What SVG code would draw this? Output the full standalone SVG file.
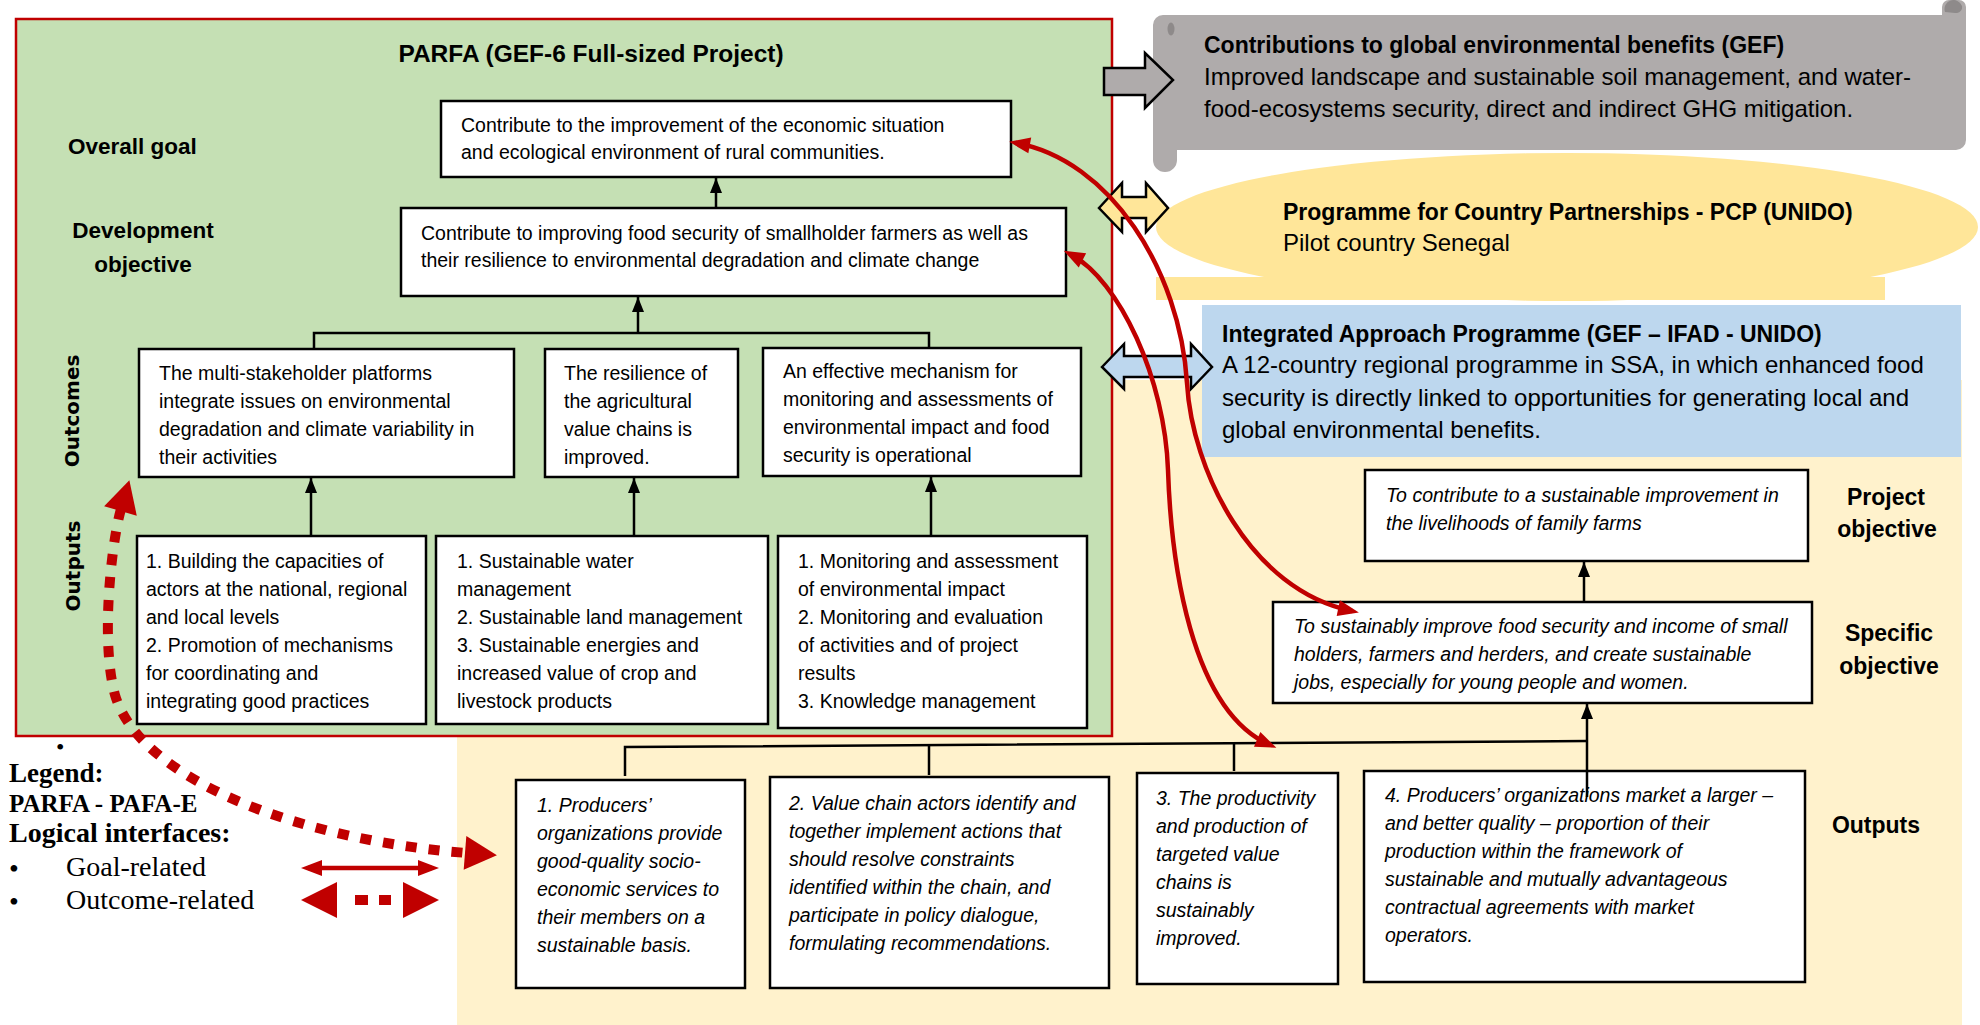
<svg xmlns="http://www.w3.org/2000/svg" width="1980" height="1025" viewBox="0 0 1980 1025">
<style>
.box{fill:#fff;stroke:#000;stroke-width:2.5}
.t{font-family:"Liberation Sans",Arial,sans-serif;font-size:19.5px;fill:#000}
.i{font-style:italic}
.b{font-weight:bold}
.lbl{font-family:"Liberation Sans",Arial,sans-serif;font-size:23px;font-weight:bold;fill:#000}
.big{font-family:"Liberation Sans",Arial,sans-serif;font-size:24px;fill:#000}
.vl{font-family:"DejaVu Sans",sans-serif;font-size:20px;font-weight:bold;fill:#000}
.ser{font-family:"Liberation Serif","Times New Roman",serif;fill:#000}
.conn{stroke:#000;stroke-width:2.5;fill:none}
.red{stroke:#C00000;stroke-width:4.5;fill:none}
.blk{stroke:#000;stroke-width:2.5;stroke-linejoin:miter}
</style>
<defs>
<marker id="ah" markerUnits="userSpaceOnUse" markerWidth="16" markerHeight="12" refX="15" refY="6" orient="auto" overflow="visible">
<path d="M0,0 L15,6 L0,12 z" fill="#000"/>
</marker>
<marker id="rh" markerUnits="userSpaceOnUse" markerWidth="22" markerHeight="18" refX="14" refY="8" orient="auto-start-reverse" overflow="visible">
<path d="M0,0 L21,8 L0,16 z" fill="#C00000"/>
</marker>
<marker id="rbig" markerUnits="userSpaceOnUse" markerWidth="34" markerHeight="36" refX="2" refY="17" orient="auto-start-reverse" overflow="visible">
<path d="M0,0 L32,17 L0,34 z" fill="#C00000"/>
</marker>
</defs>

<rect width="1980" height="1025" fill="#fff"/>

<g id="bg-cream">
<path d="M457,736 H1112 V380 H1962 V1025 H457 Z" fill="#FFF2CC"/>
</g>

<g id="gef">
<path d="M1163,15 H1942 V7 A7 7 0 0 1 1949 0 H1959 A7 7 0 0 1 1966 7 V140 A10 10 0 0 1 1956 150 H1177 V160 A12 12 0 0 1 1153 160 V25 A10 10 0 0 1 1163 15 Z" fill="#AFABAB"/>
<ellipse cx="1171" cy="29" rx="3.5" ry="6.5" fill="#8E8A8A"/>
<path d="M1945,12 A9 9 0 0 1 1962,6 A6 6 0 0 1 1955,13 Z" fill="#8E8A8A"/>
<text class="lbl" x="1204" y="53">Contributions to global environmental benefits (GEF)</text>
<text class="big" x="1204" y="85">Improved landscape and sustainable soil management, and water-</text>
<text class="big" x="1204" y="117">food-ecosystems security, direct and indirect GHG mitigation.</text>
</g>

<g id="pcp">
<ellipse cx="1567" cy="227" rx="411" ry="74" fill="#FFE699"/>
<rect x="1156" y="277" width="729" height="23" fill="#FFE699"/>
<text class="lbl" x="1283" y="220">Programme for Country Partnerships - PCP (UNIDO)</text>
<text class="big" x="1283" y="251">Pilot country Senegal</text>
</g>

<g id="iap">
<rect x="1202" y="305" width="759" height="152" fill="#BDD7EE"/>
<text class="lbl" x="1222" y="342">Integrated Approach Programme (GEF – IFAD - UNIDO)</text>
<text class="big" x="1222" y="373">A 12-country regional programme in SSA, in which enhanced food</text>
<text class="big" x="1222" y="406">security is directly linked to opportunities for generating local and</text>
<text class="big" x="1222" y="438">global environmental benefits.</text>
</g>

<g id="parfa">
<rect x="16" y="19" width="1096" height="717" fill="#C5E0B4" stroke="#C00000" stroke-width="2.5"/>
<text class="t b" x="591" y="62" text-anchor="middle" style="font-size:24.5px">PARFA (GEF-6 Full-sized Project)</text>
<text class="t b" x="68" y="154" style="font-size:22.5px">Overall goal</text>
<text class="t b" x="143" y="238" text-anchor="middle" style="font-size:22.5px">Development</text>
<text class="t b" x="143" y="272" text-anchor="middle" style="font-size:22.5px">objective</text>
<text class="vl" transform="translate(79,411) rotate(-90)" text-anchor="middle">Outcomes</text>
<text class="vl" transform="translate(80,566) rotate(-90)" text-anchor="middle">Outputs</text>
</g>

<g id="goal">
<rect class="box" x="441" y="101" width="570" height="76"/>
<text class="t" x="461" y="132">Contribute to the improvement of the economic situation</text>
<text class="t" x="461" y="159">and ecological environment of rural communities.</text>
</g>

<g id="devobj">
<rect class="box" x="401" y="208" width="665" height="88"/>
<text class="t" x="421" y="240">Contribute to improving food security of smallholder farmers as well as</text>
<text class="t" x="421" y="267">their resilience to environmental degradation and climate change</text>
</g>

<g id="outcome1">
<rect class="box" x="139" y="349" width="375" height="128"/>
<text class="t" x="159" y="380">The multi-stakeholder platforms</text>
<text class="t" x="159" y="408">integrate issues on environmental</text>
<text class="t" x="159" y="436">degradation and climate variability in</text>
<text class="t" x="159" y="464">their activities</text>
</g>
<g id="outcome2">
<rect class="box" x="545" y="349" width="193" height="128"/>
<text class="t" x="564" y="380">The resilience of</text>
<text class="t" x="564" y="408">the agricultural</text>
<text class="t" x="564" y="436">value chains is</text>
<text class="t" x="564" y="464">improved.</text>
</g>
<g id="outcome3">
<rect class="box" x="763" y="348" width="318" height="128"/>
<text class="t" x="783" y="378">An effective mechanism for</text>
<text class="t" x="783" y="406">monitoring and assessments of</text>
<text class="t" x="783" y="434">environmental impact and food</text>
<text class="t" x="783" y="462">security is operational</text>
</g>

<g id="output1">
<rect class="box" x="137" y="536" width="289" height="188"/>
<text class="t" x="146" y="568">1. Building the capacities of</text>
<text class="t" x="146" y="596">actors at the national, regional</text>
<text class="t" x="146" y="624">and local levels</text>
<text class="t" x="146" y="652">2. Promotion of mechanisms</text>
<text class="t" x="146" y="680">for coordinating and</text>
<text class="t" x="146" y="708">integrating good practices</text>
</g>
<g id="output2">
<rect class="box" x="436" y="536" width="332" height="188"/>
<text class="t" x="457" y="568">1. Sustainable water</text>
<text class="t" x="457" y="596">management</text>
<text class="t" x="457" y="624">2. Sustainable land management</text>
<text class="t" x="457" y="652">3. Sustainable energies and</text>
<text class="t" x="457" y="680">increased value of crop and</text>
<text class="t" x="457" y="708">livestock products</text>
</g>
<g id="output3">
<rect class="box" x="778" y="536" width="309" height="192"/>
<text class="t" x="798" y="568">1. Monitoring and assessment</text>
<text class="t" x="798" y="596">of environmental impact</text>
<text class="t" x="798" y="624">2. Monitoring and evaluation</text>
<text class="t" x="798" y="652">of activities and of project</text>
<text class="t" x="798" y="680">results</text>
<text class="t" x="798" y="708">3. Knowledge management</text>
</g>

<g id="projobj">
<rect class="box" x="1365" y="470" width="443" height="91"/>
<text class="t i" x="1386" y="502">To contribute to a sustainable improvement in</text>
<text class="t i" x="1386" y="530">the livelihoods of family farms</text>
<text class="lbl" x="1886" y="505" text-anchor="middle">Project</text>
<text class="lbl" x="1887" y="537" text-anchor="middle">objective</text>
</g>
<g id="specobj">
<rect class="box" x="1273" y="602" width="539" height="101"/>
<text class="t i" x="1294" y="633">To sustainably improve food security and income of small</text>
<text class="t i" x="1294" y="661">holders, farmers and herders, and create sustainable</text>
<text class="t i" x="1294" y="689">jobs, especially for young people and women.</text>
<text class="lbl" x="1889" y="641" text-anchor="middle">Specific</text>
<text class="lbl" x="1889" y="674" text-anchor="middle">objective</text>
</g>

<g id="y-output1">
<rect class="box" x="516" y="780" width="229" height="208"/>
<text class="t i" x="537" y="812">1. Producers’</text>
<text class="t i" x="537" y="840">organizations provide</text>
<text class="t i" x="537" y="868">good-quality socio-</text>
<text class="t i" x="537" y="896">economic services to</text>
<text class="t i" x="537" y="924">their members on a</text>
<text class="t i" x="537" y="952">sustainable basis.</text>
</g>
<g id="y-output2">
<rect class="box" x="770" y="777" width="339" height="211"/>
<text class="t i" x="789" y="810">2. Value chain actors identify and</text>
<text class="t i" x="789" y="838">together implement actions that</text>
<text class="t i" x="789" y="866">should resolve constraints</text>
<text class="t i" x="789" y="894">identified within the chain, and</text>
<text class="t i" x="789" y="922">participate in policy dialogue,</text>
<text class="t i" x="789" y="950">formulating recommendations.</text>
</g>
<g id="y-output3">
<rect class="box" x="1137" y="773" width="201" height="211"/>
<text class="t i" x="1156" y="805">3. The productivity</text>
<text class="t i" x="1156" y="833">and production of</text>
<text class="t i" x="1156" y="861">targeted value</text>
<text class="t i" x="1156" y="889">chains is</text>
<text class="t i" x="1156" y="917">sustainably</text>
<text class="t i" x="1156" y="945">improved.</text>
</g>
<g id="y-output4">
<rect class="box" x="1364" y="771" width="441" height="211"/>
<text class="t i" x="1385" y="802">4. Producers’ organizations market a larger –</text>
<text class="t i" x="1385" y="830">and better quality – proportion of their</text>
<text class="t i" x="1385" y="858">production within the framework of</text>
<text class="t i" x="1385" y="886">sustainable and mutually advantageous</text>
<text class="t i" x="1385" y="914">contractual agreements with market</text>
<text class="t i" x="1385" y="942">operators.</text>
<text class="lbl" x="1876" y="833" text-anchor="middle">Outputs</text>
</g>

<g id="legend">
<text class="ser" x="56" y="755" style="font-size:24px">•</text>
<text class="ser b" x="9" y="782" style="font-size:27px">Legend:</text>
<text class="ser b" x="9" y="812" style="font-size:25px">PARFA - PAFA-E</text>
<text class="ser b" x="9" y="842" style="font-size:28px">Logical interfaces:</text>
<text class="ser" x="9" y="878" style="font-size:28px">•</text>
<text class="ser" x="66" y="876" style="font-size:28px">Goal-related</text>
<text class="ser" x="9" y="911" style="font-size:28px">•</text>
<text class="ser" x="66" y="909" style="font-size:28px">Outcome-related</text>
<line class="red" x1="308" y1="868" x2="432" y2="868" marker-start="url(#rh)" marker-end="url(#rh)"/>
<path d="M301,900 L337,882 L337,918 Z M439,900 L403,882 L403,918 Z" fill="#C00000"/>
<rect x="355" y="895" width="13" height="10" fill="#C00000"/>
<rect x="379" y="895" width="12" height="10" fill="#C00000"/>
</g>

<g id="connectors">
<line class="conn" x1="716" y1="208" x2="716" y2="178" marker-end="url(#ah)"/>
<line class="conn" x1="638" y1="333" x2="638" y2="297" marker-end="url(#ah)"/>
<polyline class="conn" points="314,348 314,333 929,333 929,348"/>
<line class="conn" x1="311" y1="536" x2="311" y2="478" marker-end="url(#ah)"/>
<line class="conn" x1="634" y1="536" x2="634" y2="478" marker-end="url(#ah)"/>
<line class="conn" x1="931" y1="536" x2="931" y2="477" marker-end="url(#ah)"/>
<polyline class="conn" points="625,776 625,747 1587,741"/>
<line class="conn" x1="929" y1="745" x2="929" y2="775"/>
<line class="conn" x1="1234" y1="742" x2="1234" y2="771"/>
<line class="conn" x1="1587" y1="797" x2="1587" y2="704" marker-end="url(#ah)"/>
<line class="conn" x1="1584" y1="602" x2="1584" y2="562" marker-end="url(#ah)"/>

<path class="blk" d="M1104,68 H1145 V53 L1173,80 L1145,108 V95 H1104 Z" fill="#AFABAB"/>
<path class="blk" d="M1099,208 L1122,183 V197 H1146 V183 L1168,208 L1146,232 V218 H1122 V232 Z" fill="#FFE699"/>
<path class="blk" d="M1102,367 L1124,344 V356 H1191 V344 L1212,367 L1191,389 V377 H1124 V389 Z" fill="#BDD7EE"/>

<path class="red" d="M1016,143 C1110,160 1180,270 1187,383 C1192,470 1250,590 1352,611" marker-start="url(#rh)" marker-end="url(#rh)"/>
<path class="red" d="M1070,254 C1120,280 1165,380 1168,470 C1171,560 1190,710 1270,745" marker-start="url(#rh)" marker-end="url(#rh)"/>
<path d="M121,509 C112,540 100,640 115,695 C140,780 300,840 467,853" fill="none" stroke="#C00000" stroke-width="10" stroke-dasharray="11 12" marker-start="url(#rbig)" marker-end="url(#rbig)"/>
</g>
</svg>
